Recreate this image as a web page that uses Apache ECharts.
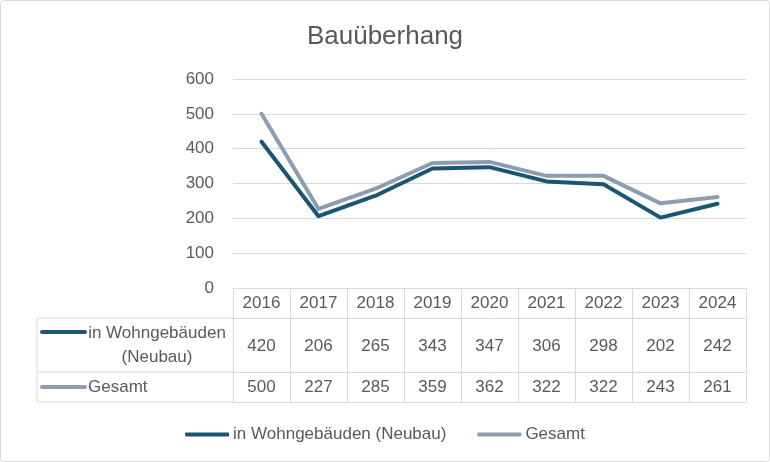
<!DOCTYPE html>
<html>
<head>
<meta charset="utf-8">
<script src="https://cdn.jsdelivr.net/npm/echarts@6/dist/echarts.min.js"></script>
<style>
html,body{margin:0;padding:0;background:#fff;}
#c{width:770px;height:462px;}
</style>
</head>
<body>
<div id="c"></div>
<script>
var years = ['2016','2017','2018','2019','2020','2021','2022','2023','2024'];
var neubau = [420, 206, 265, 343, 347, 306, 298, 202, 242];
var gesamt = [500, 227, 285, 359, 362, 322, 322, 243, 261];
var seriesNames = ['in Wohngebäuden (Neubau)', 'Gesamt'];
var rowLabels = ['in Wohngebäuden\n(Neubau)', 'Gesamt'];
var yTicks = [0, 100, 200, 300, 400, 500, 600];

var FONT = '"Liberation Sans", Arial, sans-serif';
var FS = 17;
var TXT = '#595959';
var GRID = '#d9d9d9';
var C1 = '#195673';
var C2 = '#8b9daf';

// layout
var W = 770, H = 462;
var gL = 233, gR = 24, gT = 79, gB = 174;
var axisY = H - gB;          // 288
var row1Y = axisY + 30;      // 318
var row2Y = axisY + 84;      // 372
var tabBot = axisY + 114;    // 402
var tabLeft = 37;

var chart = echarts.init(document.getElementById('c'), null, {renderer: 'canvas'});

function valueAxis(off, fmtArr, margin, showLabel) {
  return {
    type: 'category', data: years, position: 'bottom', offset: off, gridIndex: 0,
    boundaryGap: true,
    axisLine: {show: true, lineStyle: {color: GRID, width: 1}},
    axisTick: {show: false},
    axisLabel: {
      show: showLabel, margin: margin, color: TXT, fontSize: FS, fontFamily: FONT,
      formatter: function (v, i) { return fmtArr ? String(fmtArr[i]) : v; }
    },
    splitLine: {show: false}
  };
}

var option = {
  animation: false,
  backgroundColor: '#fff',
  title: {
    text: 'Bauüberhang', left: 'center', top: 19,
    textStyle: {color: TXT, fontSize: 26, fontWeight: 'normal', fontFamily: FONT}
  },
  legend: {
    top: 421, left: 'center', itemWidth: 44, itemHeight: 4, itemGap: 31,
    icon: 'roundRect',
    data: seriesNames,
    textStyle: {color: TXT, fontSize: FS, fontFamily: FONT, padding: [0, 0, 0, -1]}
  },
  grid: {left: gL, right: gR, top: gT, bottom: gB, containLabel: false},
  xAxis: [
    {
      type: 'category', data: years, position: 'bottom', boundaryGap: true,
      axisLine: {show: true, lineStyle: {color: GRID, width: 1}},
      axisTick: {show: true, alignWithLabel: false, length: 114, lineStyle: {color: GRID, width: 1}},
      axisLabel: {margin: 7, color: TXT, fontSize: FS, fontFamily: FONT},
      splitLine: {show: false}
    },
    valueAxis(30, neubau, 20, true),
    valueAxis(84, gesamt, 7, true),
    valueAxis(114, null, 8, false)
  ],
  yAxis: {
    type: 'value', min: 0, max: 600, interval: 100,
    axisLine: {show: false}, axisTick: {show: false},
    axisLabel: {margin: 19, color: TXT, fontSize: FS, fontFamily: FONT},
    splitLine: {lineStyle: {color: GRID, width: 1}}
  },
  series: [
    {name: seriesNames[0], type: 'line', data: neubau, xAxisIndex: 0, showSymbol: false, symbol: 'none',
      lineStyle: {color: C1, width: 4, cap: 'round', join: 'round'}, itemStyle: {color: C1}, z: 3},
    {name: seriesNames[1], type: 'line', data: gesamt, xAxisIndex: 0, showSymbol: false, symbol: 'none',
      lineStyle: {color: C2, width: 4, cap: 'round', join: 'round'}, itemStyle: {color: C2}, z: 2}
  ],
  graphic: [
    {type: 'rect', shape: {x: 0.5, y: 0.5, width: W - 1, height: H - 1, r: 3},
      style: {fill: null, stroke: GRID, lineWidth: 1}, silent: true},
    {type: 'line', shape: {x1: tabLeft, y1: row1Y, x2: gL, y2: row1Y}, style: {stroke: GRID, lineWidth: 1}},
    {type: 'line', shape: {x1: tabLeft, y1: row2Y, x2: gL, y2: row2Y}, style: {stroke: GRID, lineWidth: 1}},
    {type: 'line', shape: {x1: tabLeft, y1: tabBot, x2: gL, y2: tabBot}, style: {stroke: GRID, lineWidth: 1}},
    {type: 'line', shape: {x1: tabLeft, y1: row1Y, x2: tabLeft, y2: tabBot}, style: {stroke: GRID, lineWidth: 1}},
    {type: 'line', shape: {x1: 42, y1: 332, x2: 85, y2: 332}, style: {stroke: C1, lineWidth: 4, lineCap: 'round'}},
    {type: 'text', x: 157, y: 345, style: {text: rowLabels[0], fill: TXT, font: FS + 'px ' + FONT,
      align: 'center', verticalAlign: 'middle', lineHeight: 24}},
    {type: 'line', shape: {x1: 42, y1: 387, x2: 85, y2: 387}, style: {stroke: C2, lineWidth: 4, lineCap: 'round'}},
    {type: 'text', x: 88, y: 387, style: {text: rowLabels[1], fill: TXT, font: FS + 'px ' + FONT,
      align: 'left', verticalAlign: 'middle'}}
  ]
};
chart.setOption(option);
</script>
</body>
</html>
